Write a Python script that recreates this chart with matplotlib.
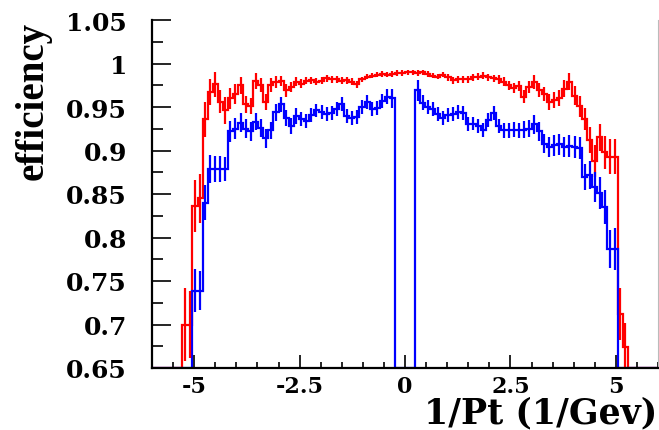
import matplotlib
matplotlib.use("Agg")
import matplotlib.pyplot as plt
import numpy as np

# 100 bins of 1/Pt between -6 and 6
x_lo, x_hi, n_bins = -6.0, 6.0, 100

red_eff = [
    0, 0, 0, 0, 0, 0,
    0.700, 0.700, 0.836, 0.845, 0.936, 0.967, 0.976, 0.956, 0.946, 0.960,
    0.965, 0.975, 0.953, 0.951, 0.980, 0.975, 0.956, 0.975, 0.979, 0.980,
    0.969, 0.973, 0.979, 0.977, 0.980, 0.981, 0.979, 0.980, 0.983, 0.982,
    0.982, 0.980, 0.981, 0.979, 0.976, 0.982, 0.985, 0.986, 0.987, 0.988,
    0.987, 0.988, 0.989, 0.989, 0.990, 0.990, 0.989, 0.990, 0.988, 0.986,
    0.985, 0.987, 0.984, 0.981, 0.982, 0.982, 0.982, 0.984, 0.985, 0.986,
    0.984, 0.983, 0.982, 0.979, 0.975, 0.972, 0.974, 0.962, 0.973, 0.979,
    0.970, 0.965, 0.956, 0.958, 0.960, 0.971, 0.979, 0.963, 0.951, 0.936,
    0.912, 0.888, 0.915, 0.898, 0.893, 0.893, 0.712, 0.674,
    0, 0, 0, 0, 0, 0,
]
red_err = [
    0, 0, 0, 0, 0, 0,
    0.042, 0.038, 0.030, 0.028, 0.020, 0.015, 0.014, 0.013, 0.015, 0.012,
    0.011, 0.010, 0.010, 0.009, 0.009, 0.008, 0.009, 0.008, 0.007, 0.006,
    0.007, 0.006, 0.005, 0.005, 0.004, 0.004, 0.004, 0.004, 0.004, 0.004,
    0.004, 0.004, 0.004, 0.004, 0.004, 0.003, 0.003, 0.003, 0.003, 0.003,
    0.003, 0.003, 0.003, 0.003, 0.003, 0.003, 0.003, 0.003, 0.003, 0.003,
    0.003, 0.003, 0.004, 0.004, 0.004, 0.004, 0.004, 0.004, 0.004, 0.004,
    0.004, 0.004, 0.005, 0.005, 0.005, 0.006, 0.006, 0.007, 0.007, 0.008,
    0.008, 0.008, 0.009, 0.009, 0.009, 0.010, 0.010, 0.011, 0.012, 0.013,
    0.015, 0.018, 0.016, 0.019, 0.020, 0.020, 0.030, 0.028,
    0, 0, 0, 0, 0, 0,
]

blue_eff = [
    0, 0, 0, 0, 0, 0, 0, 0,
    0.739, 0.739,
    0.840, 0.879, 0.879, 0.879, 0.879, 0.922,
    0.925, 0.932, 0.925, 0.922, 0.933, 0.926, 0.914, 0.923, 0.944, 0.953,
    0.937, 0.928, 0.940, 0.936, 0.934, 0.941, 0.946, 0.944, 0.942, 0.943,
    0.948, 0.953, 0.940, 0.937, 0.938, 0.950, 0.956, 0.948, 0.949, 0.957,
    0.962, 0.960,
    0, 0, 0, 0,
    0.969, 0.955, 0.950, 0.948,
    0.942, 0.937, 0.941, 0.942, 0.944, 0.943, 0.930, 0.931, 0.928, 0.924,
    0.935, 0.943, 0.928, 0.923, 0.923, 0.924, 0.923, 0.924, 0.925, 0.930,
    0.922, 0.908, 0.904, 0.906, 0.907, 0.904, 0.905, 0.904, 0.903, 0.870,
    0.872, 0.858, 0.851, 0.835, 0.787, 0.787,
    0, 0, 0, 0, 0, 0, 0, 0,
]
blue_err = [
    0, 0, 0, 0, 0, 0, 0, 0,
    0.025, 0.022,
    0.020, 0.016, 0.015, 0.015, 0.014, 0.012,
    0.012, 0.011, 0.011, 0.011, 0.010, 0.010, 0.011, 0.010, 0.010, 0.009,
    0.009, 0.009, 0.009, 0.008, 0.008, 0.008, 0.008, 0.008, 0.008, 0.008,
    0.008, 0.008, 0.008, 0.008, 0.008, 0.008, 0.008, 0.008, 0.008, 0.008,
    0.009, 0.011,
    0, 0, 0, 0,
    0.012, 0.009, 0.008, 0.008,
    0.008, 0.008, 0.008, 0.008, 0.008, 0.008, 0.008, 0.008, 0.008, 0.008,
    0.008, 0.008, 0.008, 0.009, 0.009, 0.009, 0.009, 0.010, 0.010, 0.011,
    0.011, 0.011, 0.012, 0.012, 0.012, 0.012, 0.013, 0.013, 0.013, 0.015,
    0.016, 0.017, 0.018, 0.020, 0.022, 0.024,
    0, 0, 0, 0, 0, 0, 0, 0,
]

x_ticks = [-5, -2.5, 0, 2.5, 5]
x_tick_labels = ["-5", "-2.5", "0", "2.5", "5"]
y_ticks = [0.65, 0.7, 0.75, 0.8, 0.85, 0.9, 0.95, 1.0, 1.05]
y_tick_labels = ["0.65", "0.7", "0.75", "0.8", "0.85", "0.9", "0.95", "1", "1.05"]

y_lo, y_hi = 0.65, 1.05

fig = plt.figure(figsize=(6.59, 4.31), dpi=100)
ax = fig.add_axes([152 / 659, 62 / 431, 506 / 659, 348 / 431])

edges = np.linspace(x_lo, x_hi, n_bins + 1)
centers = 0.5 * (edges[:-1] + edges[1:])


def draw_hist(vals, errs, color):
    vals = np.array(vals)
    errs = np.array(errs)
    # empty bins sit on the lower frame edge like in ROOT
    shown = np.where(vals > 0, vals, y_lo)
    ax.stairs(shown, edges, baseline=None, color=color, lw=1.6)
    m = vals > 0
    ax.errorbar(centers[m], vals[m], yerr=errs[m], fmt="none",
                ecolor=color, elinewidth=1.6, capsize=0)


draw_hist(red_eff, red_err, "#ff0000")
draw_hist(blue_eff, blue_err, "#0000ff")

ax.set_xlim(x_lo, x_hi)
ax.set_ylim(y_lo, y_hi)

ax.set_xticks(x_ticks)
ax.set_xticklabels(x_tick_labels, family="DejaVu Serif", weight="bold", size=16)
ax.set_xticks(np.arange(-6, 6.01, 0.5), minor=True)
ax.set_yticks(y_ticks)
ax.set_yticklabels(y_tick_labels, family="DejaVu Serif", weight="bold", size=18)
ax.set_yticks(np.arange(0.65, 1.051, 0.025), minor=True)

ax.tick_params(axis="x", which="major", direction="in", length=9.5, width=1.2,
               pad=5, top=False)
ax.tick_params(axis="x", which="minor", direction="in", length=4.5, width=1.2,
               top=False)
ax.tick_params(axis="y", which="major", direction="in", length=14, width=1.2,
               pad=18, right=False)
ax.tick_params(axis="y", which="minor", direction="in", length=8, width=1.2,
               right=False)

ax.spines["top"].set_visible(False)
ax.spines["right"].set_color("#bbbbbb")
ax.spines["right"].set_linewidth(0.8)
ax.spines["left"].set_linewidth(1.6)
ax.spines["bottom"].set_linewidth(1.6)

fig.text(33 / 659, 1 - 22 / 431, "efficiency", rotation=90, ha="center",
         va="top", family="Liberation Serif", weight="bold", size=28)
fig.text(657 / 659, 8 / 431, "1/Pt (1/Gev)", ha="right", va="baseline",
         family="DejaVu Serif", weight="bold", size=25)

fig.savefig("out.png", dpi=100)
